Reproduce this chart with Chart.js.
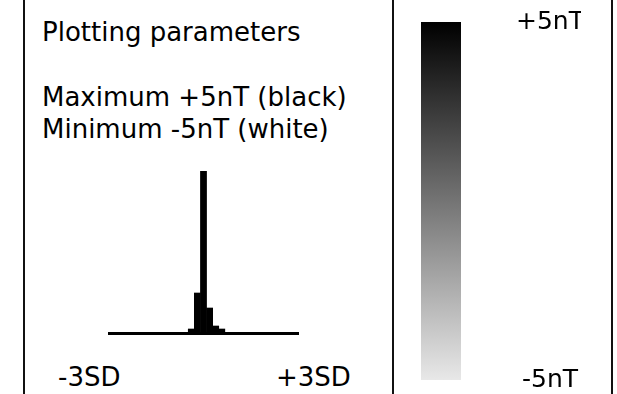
<!DOCTYPE html>
<html>
<head>
<meta charset="utf-8">
<script src="https://cdn.jsdelivr.net/npm/chart.js@4"></script>
<style>
html,body{margin:0;padding:0;background:#fff;}
body{width:617px;height:394px;overflow:hidden;position:relative;font-family:"DejaVu Sans",Verdana,sans-serif;}
.vl{position:absolute;top:0;width:2px;height:394px;background:#111;}
.t{position:absolute;font-size:26px;line-height:26px;white-space:nowrap;color:#000;}
#hc{position:absolute;left:100px;top:150px;}
#gc{position:absolute;left:400px;top:0;}
</style>
</head>
<body>
<div class="vl" style="left:23px"></div>
<div class="vl" style="left:392px"></div>
<div class="vl" style="left:611px"></div>

<div class="t" style="left:42px;top:19px">Plotting parameters</div>
<div class="t" style="left:42px;top:83.5px">Maximum +5nT (black)</div>
<div class="t" style="left:42px;top:116px">Minimum -5nT (white)</div>
<div class="t" style="left:58px;top:363.5px">-3SD</div>
<div class="t" style="left:276px;top:363.5px">+3SD</div>

<canvas id="hc" width="210" height="200"></canvas>
<canvas id="gc" width="217" height="420"></canvas>

<script>
// Histogram bins (bin centres in SD units, from -3SD to +3SD)
const binLabels = ["-2.90","-2.71","-2.52","-2.32","-2.13","-1.94","-1.74","-1.55","-1.35","-1.16",
  "-0.97","-0.77","-0.58","-0.39","-0.19","0.00","0.19","0.39","0.58","0.77",
  "0.97","1.16","1.35","1.55","1.74","1.94","2.13","2.32","2.52","2.71","2.90"];
const binCounts = [0,0,0,0,0,0,0,0,0,0,
  0,0,0,4,40,162,25,7,4,0,
  0,0,0,0,0,0,0,0,0,0,0];
const histMax = 162;

// Colour scale
const scaleMin = -5;
const scaleMax = 5;
const scaleTickValues = [-5, 5];
const scaleTickLabels = ["-5nT", "+5nT"];
const scaleColors = ["#e8e8e8", "#000000"]; // min colour, max colour

const FONT = '"DejaVu Sans", Verdana, sans-serif';

new Chart(document.getElementById('hc'), {
  type: 'bar',
  data: {
    labels: binLabels,
    datasets: [{
      data: binCounts,
      backgroundColor: '#000',
      borderWidth: 0,
      barPercentage: 1,
      categoryPercentage: 1
    }]
  },
  options: {
    responsive: false,
    animation: false,
    layout: { padding: { left: 9, right: 12, top: 21, bottom: 17 } },
    plugins: { legend: { display: false }, tooltip: { enabled: false } },
    scales: {
      x: {
        display: true,
        grid: { display: false, drawTicks: false },
        ticks: { display: false },
        border: { display: true, width: 3, color: '#000' },
        afterFit: (s) => { s.height = 0; }
      },
      y: { display: false, min: 0, max: histMax }
    }
  }
});

new Chart(document.getElementById('gc'), {
  type: 'bar',
  data: {
    labels: ['scale'],
    datasets: [{
      data: [[scaleMin, scaleMax]],
      borderWidth: 0,
      barPercentage: 1,
      categoryPercentage: 1,
      backgroundColor: (ctx) => {
        const chart = ctx.chart;
        const area = chart.chartArea;
        if (!area) return '#777';
        const g = chart.ctx.createLinearGradient(0, area.bottom, 0, area.top);
        g.addColorStop(0, scaleColors[0]);
        g.addColorStop(1, scaleColors[1]);
        return g;
      }
    }]
  },
  options: {
    responsive: false,
    animation: false,
    layout: { padding: { left: 21, right: 36, top: 22, bottom: 40 } },
    plugins: { legend: { display: false }, tooltip: { enabled: false } },
    scales: {
      x: { display: false },
      y: {
        position: 'right',
        min: scaleMin,
        max: scaleMax,
        grid: { display: false, drawTicks: false },
        border: { display: false },
        afterBuildTicks: (s) => { s.ticks = scaleTickValues.map(v => ({ value: v })); },
        afterFit: (s) => { s.width = 120; s.paddingTop = 0; s.paddingBottom = 0; },
        ticks: {
          padding: 55,
          crossAlign: 'center',
          color: '#000',
          font: { family: FONT, size: 25 },
          callback: (v) => {
            const i = scaleTickValues.indexOf(v);
            return i >= 0 ? scaleTickLabels[i] : '';
          }
        }
      }
    }
  }
});
</script>
</body>
</html>
